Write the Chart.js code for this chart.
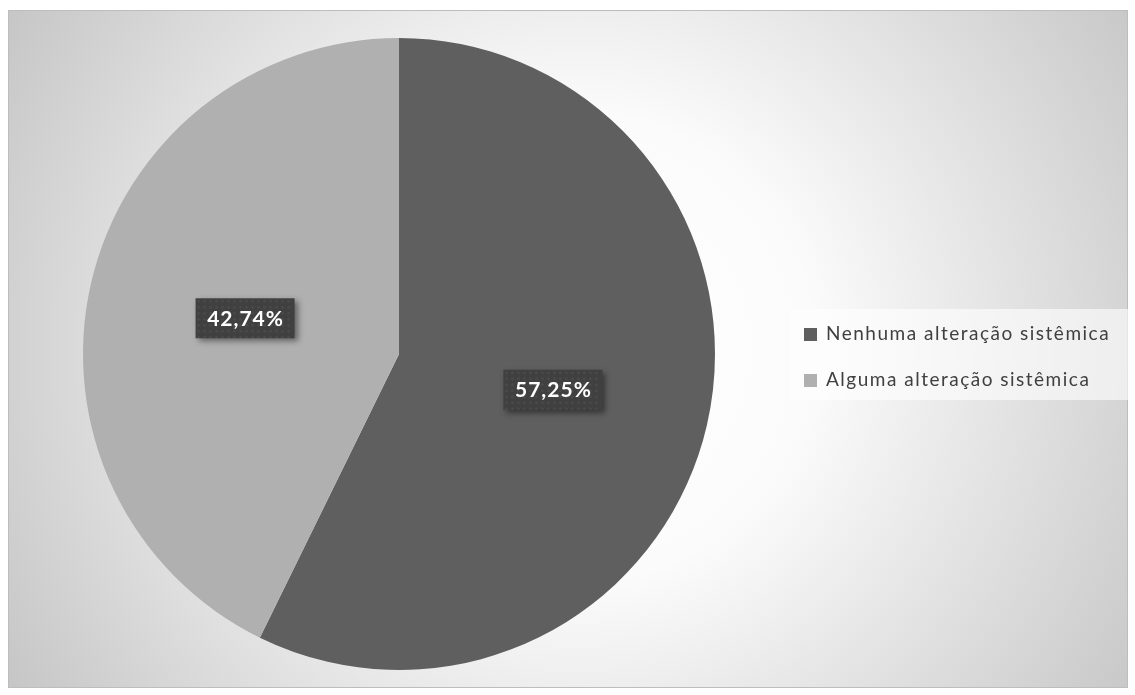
<!DOCTYPE html>
<html lang="pt-BR">
<head>
<meta charset="UTF-8">
<title>Alteração sistêmica</title>
<script src="https://cdn.jsdelivr.net/npm/chart.js"></script>
<style>
  html, body { margin: 0; padding: 0; background: #fff; }
  #wrap { position: relative; width: 1135px; height: 695px; }
</style>
</head>
<body>
<div id="wrap"><canvas id="pieChart" width="1135" height="695"></canvas></div>
<script>
// dados do gráfico
const categories = ['Nenhuma alteração sistêmica', 'Alguma alteração sistêmica'];
const values = [57.25, 42.74];
const valueLabels = ['57,25%', '42,74%'];
const sliceColors = ['#5f5f5f', '#b0b0b0'];

// fundo com gradiente radial e borda da área do gráfico
const backgroundPlugin = {
  id: 'bg',
  beforeDraw(chart) {
    const ctx = chart.ctx;
    ctx.save();
    const g = ctx.createRadialGradient(580, 348, 0, 580, 348, 665);
    g.addColorStop(0, '#ffffff');
    g.addColorStop(0.35, '#fbfbfb');
    g.addColorStop(1, '#c6c6c6');
    ctx.fillStyle = g;
    ctx.fillRect(8, 10, 1120, 678);
    ctx.strokeStyle = '#bdbdbd';
    ctx.lineWidth = 1;
    ctx.strokeRect(8.5, 10.5, 1119, 677);
    ctx.restore();
  }
};

// rótulos de dados com caixa escura e sombra
const labelPlugin = {
  id: 'valueBoxes',
  afterDatasetsDraw(chart) {
    const ctx = chart.ctx;
    const meta = chart.getDatasetMeta(0);
    ctx.save();
    ctx.font = 'bold 21px Lato, "Open Sans", sans-serif';
    ctx.letterSpacing = '1px';
    ctx.textAlign = 'center';
    ctx.textBaseline = 'middle';
    meta.data.forEach((arc, i) => {
      const p = arc.tooltipPosition();
      const w = 99, h = 40;
      const x = p.x - w / 2, y = p.y - h / 2;
      ctx.save();
      ctx.shadowColor = 'rgba(0,0,0,0.45)';
      ctx.shadowBlur = 6;
      ctx.shadowOffsetX = 3;
      ctx.shadowOffsetY = 3;
      ctx.fillStyle = '#404040';
      ctx.fillRect(x, y, w, h);
      ctx.restore();
      // textura pontilhada
      ctx.fillStyle = 'rgba(255,255,255,0.05)';
      for (let yy = y + 3; yy < y + h; yy += 6) {
        for (let xx = x + 3; xx < x + w; xx += 6) {
          ctx.beginPath();
          ctx.arc(xx, yy, 1.5, 0, Math.PI * 2);
          ctx.fill();
        }
      }
      ctx.fillStyle = '#ffffff';
      ctx.fillText(valueLabels[i], p.x + 0.5, p.y + 1);
    });
    ctx.restore();
  }
};

// legenda à direita
const legendPlugin = {
  id: 'sideLegend',
  afterDraw(chart) {
    const ctx = chart.ctx;
    ctx.save();
    ctx.fillStyle = 'rgba(255,255,255,0.6)';
    ctx.fillRect(791, 309, 337, 91);
    ctx.font = '19px Lato, "Open Sans", sans-serif';
    ctx.letterSpacing = '1.5px';
    ctx.textBaseline = 'middle';
    ctx.textAlign = 'left';
    categories.forEach((name, i) => {
      const cy = 334 + i * 46;
      ctx.fillStyle = sliceColors[i];
      ctx.fillRect(804, cy - 6, 13, 13);
      ctx.fillStyle = '#404040';
      ctx.fillText(name, 826, cy);
    });
    ctx.restore();
  }
};

new Chart(document.getElementById('pieChart'), {
  type: 'pie',
  data: {
    labels: categories,
    datasets: [{
      data: values,
      backgroundColor: sliceColors,
      borderWidth: 0
    }]
  },
  options: {
    responsive: false,
    animation: false,
    layout: { padding: { left: 83, right: 420, top: 38, bottom: 25 } },
    plugins: {
      legend: { display: false },
      tooltip: { enabled: false }
    }
  },
  plugins: [backgroundPlugin, labelPlugin, legendPlugin]
});
</script>
</body>
</html>
